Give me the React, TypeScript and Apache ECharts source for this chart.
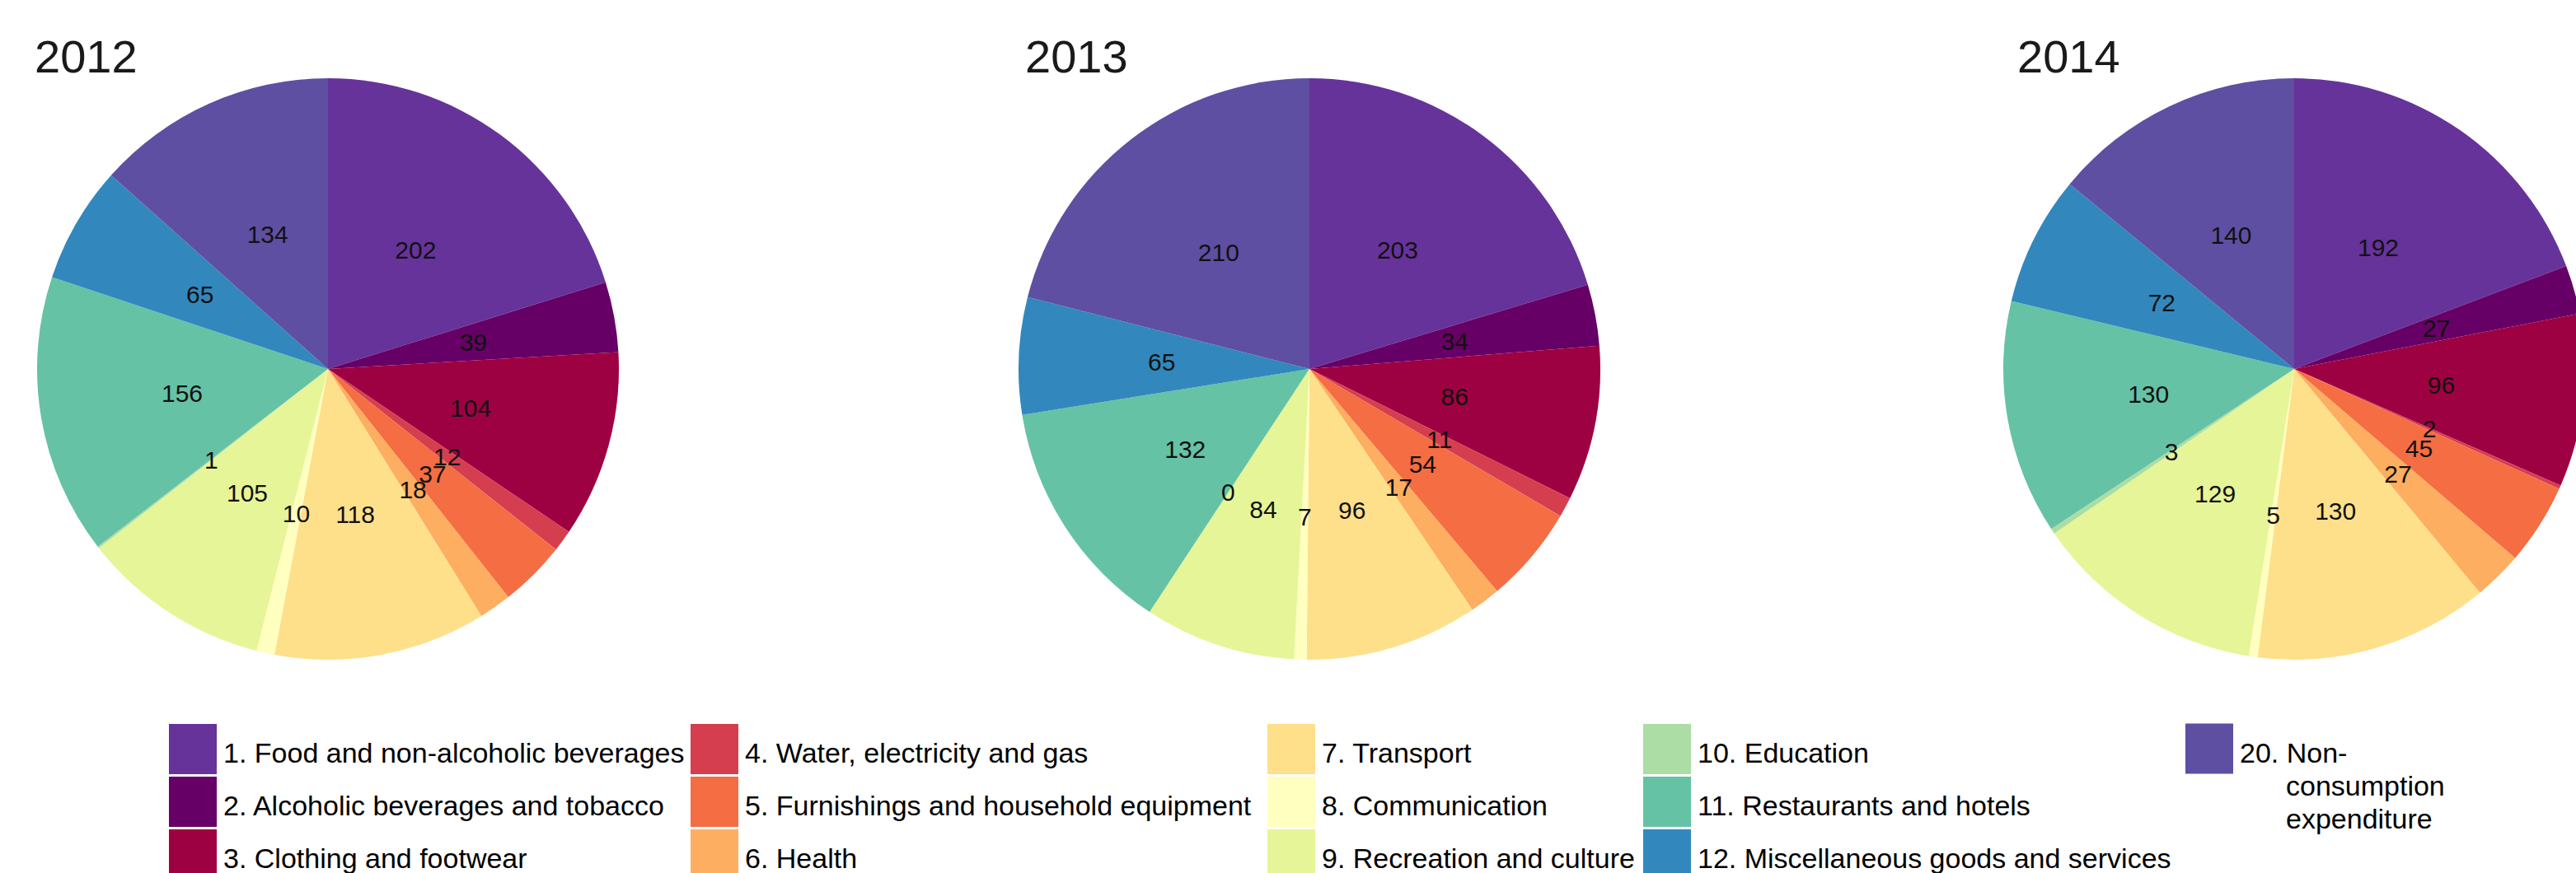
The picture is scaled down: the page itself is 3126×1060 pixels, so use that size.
import React, { useEffect, useRef } from "react";
import * as echarts from "echarts";

const categories = [
  "1. Food and non-alcoholic beverages",
  "2. Alcoholic beverages and tobacco",
  "3. Clothing and footwear",
  "4. Water, electricity and gas",
  "5. Furnishings and household equipment",
  "6. Health",
  "7. Transport",
  "8. Communication",
  "9. Recreation and culture",
  "10. Education",
  "11. Restaurants and hotels",
  "12. Miscellaneous goods and services",
  "20. Non-consumption expenditure",
];

const colors = [
  "#66339A",
  "#660066",
  "#9E0142",
  "#D53E4F",
  "#F46D43",
  "#FDAE61",
  "#FEE08B",
  "#FFFFBF",
  "#E6F598",
  "#ABDDA4",
  "#66C2A5",
  "#3288BD",
  "#5E4FA2",
];

const years = ["2012", "2013", "2014"];
const values2012 = [202, 39, 104, 12, 37, 18, 118, 10, 105, 1, 156, 65, 134];
const values2013 = [203, 34, 86, 11, 54, 17, 96, 7, 84, 0, 132, 65, 210];
const values2014 = [192, 27, 96, 2, 45, 27, 130, 5, 129, 3, 130, 72, 140];
const seriesValues = [values2012, values2013, values2014];

const legendColumns = [
  [0, 1, 2],
  [3, 4, 5],
  [6, 7, 8],
  [9, 10, 11],
  [12],
];

const FONT = "'Liberation Sans', Arial, Helvetica, sans-serif";

export default function App() {
  const ref = useRef<HTMLDivElement>(null);

  useEffect(() => {
    if (!ref.current) return;
    const chart = echarts.init(ref.current, undefined, { renderer: "svg" });

    const pieCentersX = [398, 1589, 2784];
    const titleLefts = [42, 1244, 2448];
    const legendLefts = [205, 838, 1538, 1994, 2652];

    const series = seriesValues.map((vals, si) => ({
      type: "pie",
      name: years[si],
      radius: 353,
      center: [pieCentersX[si], 448],
      startAngle: 90,
      clockwise: true,
      silent: true,
      emphasis: { disabled: true },
      itemStyle: { borderWidth: 0 },
      labelLayout: { hideOverlap: false },
      avoidLabelOverlap: false,
      label: {
        show: true,
        position: "inside",
        formatter: "{c}",
        color: "#111",
        fontSize: 30,
        fontFamily: FONT,
        textBorderWidth: 0,
      },
      labelLine: { show: false },
      data: categories.map((n, i) => ({ name: n, value: vals[i] })),
    }));

    const legends = legendColumns.map((col, ci) => {
      const isLast = ci === legendColumns.length - 1;
      return {
        type: "plain",
        orient: "vertical",
        left: legendLefts[ci],
        top: isLast ? 804 : 879,
        height: 400,
        width: 700,
        padding: 0,
        itemWidth: 58,
        itemHeight: 61,
        itemGap: 3,
        icon: "rect",
        selectedMode: false,
        itemStyle: { borderWidth: 0 },
        data: col.map((i) => categories[i]),
        formatter: isLast
          ? () => "20. Non-\n{i|consumption}\n{i|expenditure}"
          : undefined,
        textStyle: {
          fontSize: 34,
          color: "#000",
          fontFamily: FONT,
          lineHeight: 40,
          padding: isLast ? [90, 0, 0, 3] : [8, 0, 0, 3],
          rich: {
            i: {
              padding: [0, 0, 0, 56],
              fontSize: 34,
              lineHeight: 40,
              color: "#000",
              fontFamily: FONT,
            },
          },
        },
      };
    });

    chart.setOption({
      animation: false,
      backgroundColor: "#ffffff",
      color: colors,
      textStyle: { fontFamily: FONT },
      title: years.map((y, i) => ({
        text: y,
        left: titleLefts[i],
        top: 40,
        padding: 0,
        textStyle: {
          fontSize: 56,
          fontWeight: "normal",
          color: "#1a1a1a",
          fontFamily: FONT,
          lineHeight: 56,
        },
      })),
      legend: legends,
      series,
    });

    return () => {
      chart.dispose();
    };
  }, []);

  return (
    <div
      ref={ref}
      style={{
        position: "fixed",
        left: 0,
        top: 0,
        width: 3126,
        height: 1060,
        background: "#fff",
      }}
    />
  );
}
